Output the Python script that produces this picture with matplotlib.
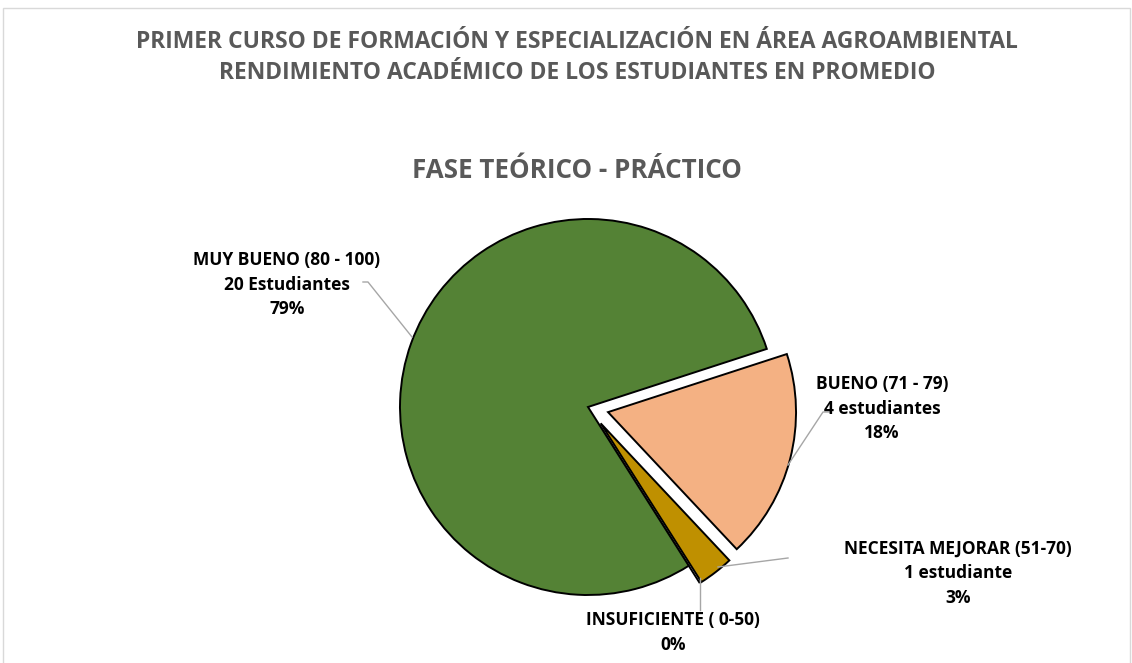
import matplotlib.pyplot as plt
from matplotlib.patches import Rectangle
import numpy as np

# data (order as drawn clockwise, starting at the top edge of BUENO)
categories = ['BUENO (71 - 79)', 'NECESITA MEJORAR (51-70)', 'INSUFICIENTE ( 0-50)', 'MUY BUENO (80 - 100)']
students = ['4 estudiantes', '1 estudiante', None, '20 Estudiantes']
percent = [18, 3, 0, 79]
colors = ['#F4B183', '#BF9000', '#BF9000', '#548235']

W, H = 1132, 663
fig = plt.figure(figsize=(W / 100, H / 100), dpi=100)
fig.patch.set_facecolor('white')
ax = fig.add_axes([0, 0, 1, 1])

def py(y):  # pixel y (top-down) -> data y
    return H - y

cx, cy, r = 588, py(407), 188
# explode is added to the center in data units, so scale by radius
explode = [0.11 * r, 0.11 * r, 0.11 * r, 0.0]
wedges, _ = ax.pie(percent, colors=colors, explode=explode, startangle=18,
                   counterclock=False, center=(cx, cy), radius=r, frame=True,
                   wedgeprops=dict(edgecolor='black', linewidth=1.4))
ax.set_xlim(0, W)
ax.set_ylim(0, H)
ax.set_aspect('equal')
ax.axis('off')

# chart border
ax.add_patch(Rectangle((3, -5), W - 5, py(8) + 5, fill=False, edgecolor='#D9D9D9', linewidth=1))

font = 'Open Sans'
title_col = '#595959'
ax.text(577, py(42), 'PRIMER CURSO DE FORMACIÓN Y ESPECIALIZACIÓN EN ÁREA AGROAMBIENTAL',
        ha='center', va='center', fontsize=16.5, fontweight='bold', color=title_col, family=font)
ax.text(577, py(73), 'RENDIMIENTO ACADÉMICO DE LOS ESTUDIANTES EN PROMEDIO',
        ha='center', va='center', fontsize=16.5, fontweight='bold', color=title_col, family=font)
ax.text(577, py(170), 'FASE TEÓRICO - PRÁCTICO',
        ha='center', va='center', fontsize=18.7, fontweight='bold', color=title_col, family=font)

# data labels: (text center x, first line y in px)
label_pos = [(882, 384), (958, 549), (673, 620), (287, 260)]
leaders = [
    [(831, 412), (823, 412), (788, 465)],
    [(788, 558), (718, 567)],
    [(700, 610), (700, 578)],
    [(363, 282), (368, 282), (412, 337)],
]
for cat, stu, pct, (lx, ly), pts in zip(categories, students, percent, label_pos, leaders):
    lines = [cat] + ([stu] if stu else []) + [f'{pct}%']
    for i, s in enumerate(lines):
        ax.text(lx, py(ly + i * 24.5), s, ha='center', va='center', fontsize=12.5,
                fontweight='bold', color='black', family=font)
    xs = [p[0] for p in pts]
    ys = [py(p[1]) for p in pts]
    ax.plot(xs, ys, color='#A6A6A6', linewidth=1)

fig.savefig('out.png', dpi=100)
